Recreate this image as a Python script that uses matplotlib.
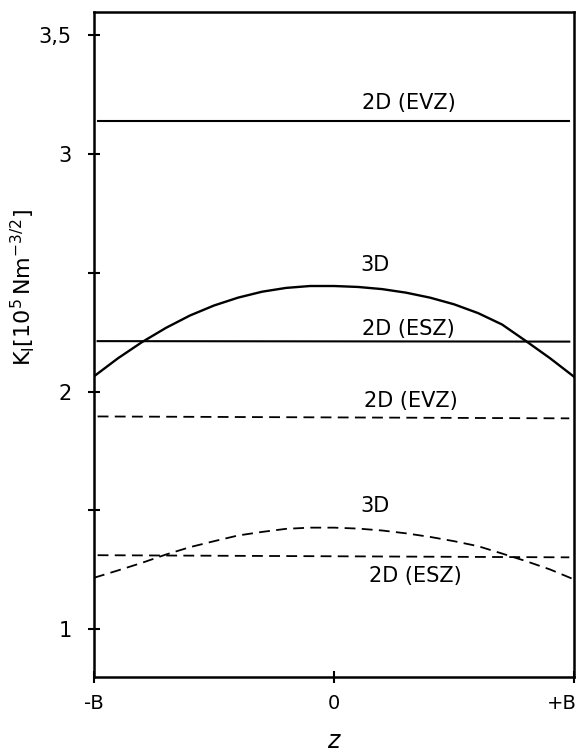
import matplotlib.pyplot as plt
from matplotlib.transforms import ScaledTranslation

# position along the crack front, -B .. +B
z_curve = [-1.0, -0.9, -0.8, -0.7, -0.6, -0.5, -0.4, -0.3, -0.2, -0.1, 0.0,
           0.1, 0.2, 0.3, 0.4, 0.5, 0.6, 0.7, 0.8, 0.9, 1.0]
k_3d_solid = [2.064, 2.140, 2.208, 2.268, 2.320, 2.362, 2.395, 2.420, 2.436, 2.444, 2.444,
              2.440, 2.431, 2.416, 2.395, 2.367, 2.330, 2.282, 2.212, 2.140, 2.062]
k_3d_dashed = [1.216, 1.247, 1.279, 1.314, 1.345, 1.370, 1.394, 1.409, 1.422, 1.427, 1.427,
               1.423, 1.415, 1.403, 1.388, 1.370, 1.349, 1.318, 1.286, 1.251, 1.209]

z_flat = [-0.985, 0.98]
k_evz_solid = [3.139, 3.139]
k_esz_solid = [2.212, 2.210]
k_evz_dashed = [1.895, 1.887]
k_esz_dashed = [1.311, 1.302]

yticks = [1, 1.5, 2, 2.5, 3, 3.5]
ytick_labels = ["1", "", "2", "", "3", "3,5"]
xticks = [-1, 0, 1]
xtick_labels = ["-B", "0", "+B"]

fig = plt.figure(figsize=(5.84, 7.54), dpi=100)
ax = fig.add_axes([0.161, 0.102, 0.822, 0.882])

dash = (0, (6, 3.5))
ax.plot(z_curve, k_3d_solid, color="black", lw=1.7)
ax.plot(z_flat, k_evz_solid, color="black", lw=1.5)
ax.plot(z_flat, k_esz_solid, color="black", lw=1.5)
ax.plot(z_curve, k_3d_dashed, color="black", lw=1.3, linestyle=dash)
ax.plot(z_flat, k_evz_dashed, color="black", lw=1.3, linestyle=dash)
ax.plot(z_flat, k_esz_dashed, color="black", lw=1.3, linestyle=dash)

fs = 15
ax.text(0.31, 3.215, "2D (EVZ)", fontsize=fs, ha="center", va="center")
ax.text(0.17, 2.534, "3D", fontsize=fs, ha="center", va="center")
ax.text(0.31, 2.265, "2D (ESZ)", fontsize=fs, ha="center", va="center")
ax.text(0.32, 1.962, "2D (EVZ)", fontsize=fs, ha="center", va="center")
ax.text(0.17, 1.517, "3D", fontsize=fs, ha="center", va="center")
ax.text(0.34, 1.223, "2D (ESZ)", fontsize=fs, ha="center", va="center")

ax.set_xlim(-1, 1)
ax.set_ylim(0.798, 3.597)
ax.set_yticks(yticks)
ax.set_yticklabels(ytick_labels, fontsize=15)
ax.set_xticks(xticks)
ax.set_xticklabels(xtick_labels, fontsize=14)
ax.tick_params(axis="y", direction="inout", length=8, width=1.5, pad=12)
ax.tick_params(axis="x", direction="inout", length=8, width=1.5, pad=8)
for s in ax.spines.values():
    s.set_linewidth(1.8)

# "+B" sits just inside the right end
lbl = ax.get_xticklabels()[-1]
lbl.set_transform(lbl.get_transform() + ScaledTranslation(-0.12, 0, fig.dpi_scale_trans))

ax.set_ylabel(r"$\mathrm{K_I}\left[10^5\,\mathrm{Nm}^{-3/2}\right]$", fontsize=16)
ax.yaxis.set_label_coords(-0.119, 0.585)
ax.set_xlabel(r"$z$", fontsize=17, labelpad=12)

fig.savefig("out.png", dpi=100)
